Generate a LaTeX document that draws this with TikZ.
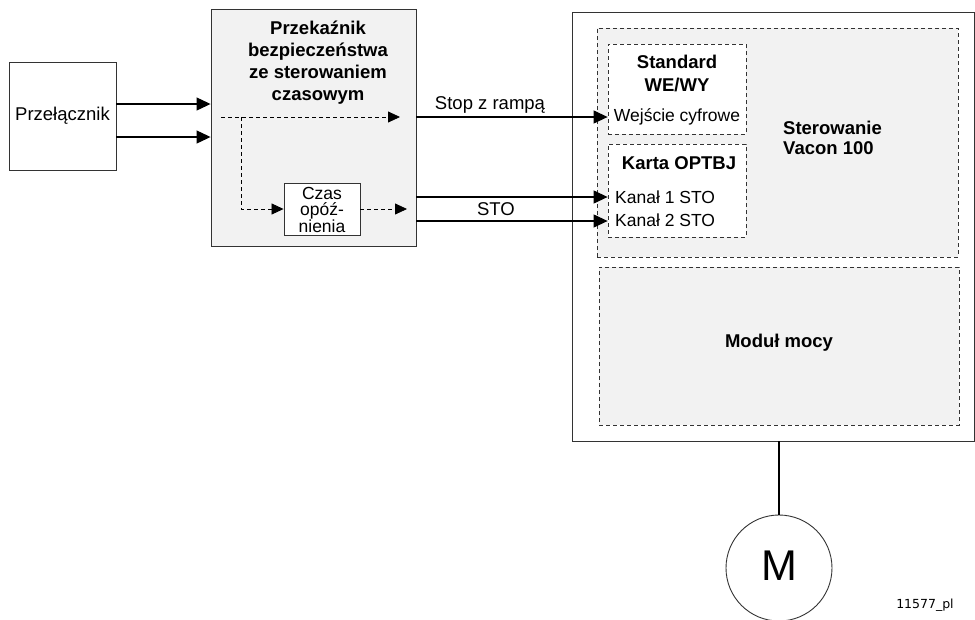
\documentclass[tikz,border=0pt]{standalone}
\usepackage{fontspec}
\setmainfont{Liberation Sans}
\newfontfamily\codefont{DejaVu Sans}
\usetikzlibrary{arrows.meta}
\definecolor{panel}{HTML}{F2F2F2}
\begin{document}
\begin{tikzpicture}[x=1pt,y=-1pt,
  font=\fontsize{18.5}{22}\selectfont,
  box/.style={draw=black!80, line width=0.9pt, rectangle, inner sep=0pt},
  dbox/.style={draw=black!80, line width=0.8pt, dash pattern=on 4pt off 3pt, rectangle, inner sep=0pt},
  arr/.style={line width=1.2pt, -{Triangle[length=14pt,width=13pt]}},
  darr/.style={line width=0.8pt, dash pattern=on 4pt off 3pt, -{Triangle[length=12pt,width=11pt]}},
  lbl/.style={inner sep=0pt},
  bold/.style={font=\bfseries\fontsize{18.5}{22}\selectfont}
]
\useasboundingbox (0,0) rectangle (975,619);

% switch
\node[box, minimum width=107pt, minimum height=108pt] (sw) at (62.5,116) {Przełącznik};

% relay
\node[box, fill=panel, minimum width=205pt, minimum height=237pt] (relay) at (313.5,127.5) {};
\node[lbl, bold, align=center] (rtitle) at (318,62.5) {Przekaźnik\\bezpieczeństwa\\ze sterowaniem\\czasowym};
\node[box, fill=white, minimum width=76pt, minimum height=52pt] (delay) at (322,209) {};
\node[lbl, align=center, font=\fontsize{17.5}{16.5}\selectfont] (dtext) at (322,209.5) {Czas\\opóź-\\nienia};

% drive
\node[box, minimum width=402pt, minimum height=429pt] (outer) at (773,226.5) {};
\node[dbox, fill=panel, minimum width=361pt, minimum height=229pt] (ster) at (777.5,142.5) {};
\node[dbox, fill=white, minimum width=138pt, minimum height=90pt] (std) at (677,89) {};
\node[dbox, fill=white, minimum width=138pt, minimum height=93pt] (karta) at (677,190.5) {};
\node[dbox, fill=panel, minimum width=360pt, minimum height=158pt] (modul) at (779,346) {};
\node[lbl, bold] (modtext) at (779,343) {Moduł mocy};

\node[lbl, bold, align=left, anchor=west] (stertext) at (783,138) {Sterowanie\\[-2pt]Vacon 100};
\node[lbl, bold] (stdt1) at (677,62) {Standard};
\node[lbl, bold] (stdt2) at (677,85) {WE/WY};
\node[lbl, font=\fontsize{17.5}{20}\selectfont] (stdt3) at (677,117) {Wejście cyfrowe};
\node[lbl, bold] (kt) at (679,163) {Karta OPTBJ};
\node[lbl, anchor=west, font=\fontsize{17.5}{20}\selectfont] (k1) at (615,197) {Kanał 1 STO};
\node[lbl, anchor=west, font=\fontsize{17.5}{20}\selectfont] (k2) at (615,220) {Kanał 2 STO};

% motor
\node[draw=black!80, line width=0.9pt, circle, minimum size=106pt, inner sep=0pt] (motor) at (779,568) {};
\node[lbl, font=\fontsize{43}{43}\selectfont] (mtext) at (779,566) {M};
\node[lbl, font=\codefont\fontsize{12.5}{14}\selectfont] (code) at (925,605) {11577\_pl};

% connectors
\draw[arr] (sw.east |- 0,104) -- (relay.west |- 0,104);
\draw[arr] (sw.east |- 0,137) -- (relay.west |- 0,137);

\coordinate (d0) at (221,117);
\coordinate (d1) at (400,117);
\coordinate (db) at (241,117);
\coordinate (d2) at (407,209);
\draw[darr] (d0) -- (d1);
\draw[darr] (db) |- (delay.west);
\draw[darr] (delay.east) -- (d2);

\draw[arr] (relay.east |- 0,117) -- (std.west |- 0,117);
\draw[arr] (relay.east |- 0,197) -- (karta.west |- 0,197);
\draw[arr] (relay.east |- 0,221) -- (karta.west |- 0,221);
\node[lbl] (stoplbl) at (490,105) {Stop z rampą};
\node[lbl] (stolbl) at (496,209) {STO};

\draw[line width=1.2pt] (outer.south -| motor.north) -- (motor.north);
\end{tikzpicture}
\end{document}
